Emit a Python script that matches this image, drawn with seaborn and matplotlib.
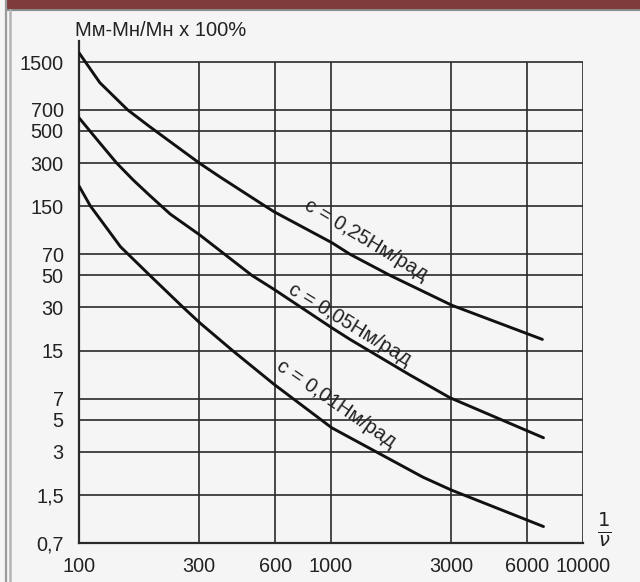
import matplotlib
matplotlib.use("Agg")
import matplotlib.pyplot as plt
import seaborn as sns
import pandas as pd
from matplotlib.patches import Rectangle
from matplotlib.lines import Line2D

# ---- data ----
x_025 = [100, 121, 156, 191, 300, 363, 523, 594, 1010, 1190, 1714, 3020, 6900]
v_025 = [1740, 1080, 700, 535, 300, 240, 159, 138, 84, 70, 50, 31, 18]

x_005 = [100, 120, 141, 164, 190, 230, 302, 485, 594, 1010, 1190, 2058, 2966, 6970]
v_005 = [617, 420, 300, 229, 180, 133, 95, 50, 40, 21.6, 18, 10.2, 7.1, 3.75]

x_001 = [100, 111, 126, 146, 191, 259, 302, 408, 594, 1006, 2317, 3000, 6970]
v_001 = [208, 151, 112, 79, 50, 30, 23.4, 15, 8.8, 4.4, 2.0, 1.63, 0.91]

curve_labels = ["с = 0,25Нм/рад", "с = 0,05Нм/рад", "с = 0,01Нм/рад"]
label_x = [1377, 1190, 1047]
label_y = [88, 22.7, 6.4]
label_rot = [-31, -31.5, -34.5]

y_ticks = [0.7, 1.5, 3, 5, 7, 15, 30, 50, 70, 150, 300, 500, 700, 1500]
y_ticklabels = ["0,7", "1,5", "3", "5", "7", "15", "30", "50", "70", "150", "300", "500", "700", "1500"]
x_ticks = [100, 300, 600, 1000, 3000, 6000, 10000]
x_ticklabels = ["100", "300", "600", "1000", "3000", "6000", "10000"]
y_title = "Мм-Мн/Мн x 100%"

df = pd.concat([
    pd.DataFrame({"x": x_025, "v": v_025, "c": curve_labels[0]}),
    pd.DataFrame({"x": x_005, "v": v_005, "c": curve_labels[1]}),
    pd.DataFrame({"x": x_001, "v": v_001, "c": curve_labels[2]}),
])

sns.set_theme(style="white")
plt.rcParams["font.family"] = ["Liberation Sans", "DejaVu Sans"]

BG = "#f5f5f5"
TXT = "#222222"
fig = plt.figure(figsize=(6.4, 5.82), dpi=100, facecolor=BG)
ax = fig.add_axes([79 / 640, 1 - 543 / 582, 504 / 640, (543 - 41) / 582])
ax.set_facecolor(BG)

ax.set_xscale("log")
ax.set_yscale("log")
ax.set_xlim(100, 10000)
ax.set_ylim(0.7, 2100)

grid_c = "#2a2a2a"
for yv in y_ticks[1:]:
    ax.hlines(yv, 100, 10000, color=grid_c, lw=1.2, zorder=1)
for xv in x_ticks[1:]:
    ax.vlines(xv, 0.7, 1500, color=grid_c, lw=1.2, zorder=1)

sns.lineplot(data=df, x="x", y="v", units="c", estimator=None, sort=False,
             color="#111111", lw=2.1, legend=False, ax=ax, zorder=3)

for t, lx, ly, r in zip(curve_labels, label_x, label_y, label_rot):
    ax.text(lx, ly, t, rotation=r, rotation_mode="anchor", ha="center", va="center",
            fontsize=14.5, color=TXT, zorder=4)

ax.set_xticks(x_ticks)
ax.set_xticklabels(x_ticklabels)
ax.set_yticks(y_ticks)
ax.set_yticklabels(y_ticklabels)
ax.minorticks_off()
ax.tick_params(axis="both", length=0, labelsize=14.3, colors=TXT)
ax.tick_params(axis="y", pad=11)
ax.tick_params(axis="x", pad=10)
ax.set_xlabel("")
ax.set_ylabel("")

for s in ["top", "right"]:
    ax.spines[s].set_visible(False)
for s in ["left", "bottom"]:
    ax.spines[s].set_color(grid_c)
    ax.spines[s].set_linewidth(1.6)

fig.text(75 / 640, 1 - 30 / 582, y_title, ha="left", va="center", fontsize=14.5, color=TXT)
fig.text(604 / 640, 1 - 530 / 582, r"$\frac{1}{\nu}$", ha="center", va="center", fontsize=20, color=TXT)

# page frame decoration
fig.patches.append(Rectangle((7 / 640, 1 - 7.5 / 582), 1, 7.5 / 582, transform=fig.transFigure,
                             color="#7e3a3a", zorder=0))
fig.lines.append(Line2D([7 / 640, 1], [1 - 9.5 / 582, 1 - 9.5 / 582], transform=fig.transFigure,
                        color="#8a8a8a", lw=1.5))
fig.lines.append(Line2D([6 / 640, 6 / 640], [0, 1], transform=fig.transFigure, color="#9a9a9a", lw=1.6))
fig.lines.append(Line2D([9.5 / 640, 9.5 / 640], [0, 1 - 9.5 / 582], transform=fig.transFigure,
                        color="#b5b5b5", lw=1.8))

fig.savefig("out.png", dpi=100, facecolor=BG)
